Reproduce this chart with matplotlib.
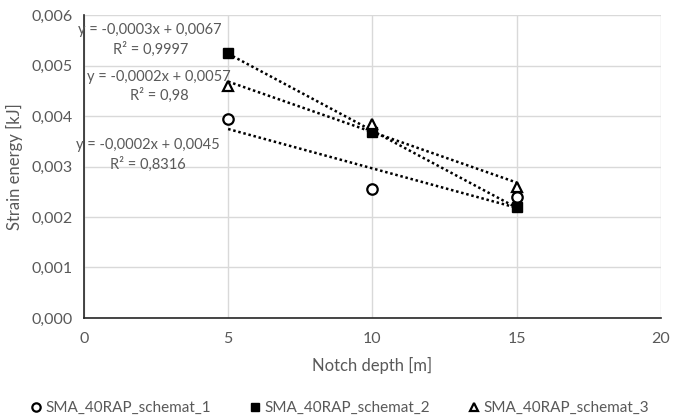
import numpy as np
import matplotlib
matplotlib.use("Agg")
import matplotlib.pyplot as plt
from matplotlib.ticker import FuncFormatter

plt.rcParams['font.family'] = ['Lato', 'DejaVu Sans']

notch_depth = [5, 10, 15]
series_names = ["SMA_40RAP_schemat_1", "SMA_40RAP_schemat_2", "SMA_40RAP_schemat_3"]
energy_1 = [0.00395, 0.00255, 0.00239]
energy_2 = [0.00525, 0.00368, 0.00220]
energy_3 = [0.00460, 0.00385, 0.00260]
eq_labels = ["y = -0,0002x + 0,0045\nR² = 0,8316",
             "y = -0,0003x + 0,0067\nR² = 0,9997",
             "y = -0,0002x + 0,0057\nR² = 0,98"]
x_ticks = [0, 5, 10, 15, 20]
y_ticks = [0.000, 0.001, 0.002, 0.003, 0.004, 0.005, 0.006]

fig = plt.figure(figsize=(6.77, 4.20), dpi=100)
ax = fig.add_axes([0.124, 0.243, 0.852, 0.721])

txt = "#595959"
markers = [dict(marker='o', mfc='white', mec='black', mew=1.6, ms=7.5),
           dict(marker='s', mfc='black', mec='black', mew=1.0, ms=7.5),
           dict(marker='^', mfc='white', mec='black', mew=1.6, ms=7.5)]
eq_pos = [(2.2, 0.00323), (2.3, 0.00551), (2.6, 0.00459)]

x = np.array(notch_depth, dtype=float)
for ys, name, mk, lab, pos in zip([energy_1, energy_2, energy_3], series_names,
                                  markers, eq_labels, eq_pos):
    ax.plot(x, ys, linestyle='none', label=name, zorder=4, **mk)
    c = np.polyfit(x, ys, 1)
    xl = np.array([x.min(), x.max()])
    ax.plot(xl, np.polyval(c, xl), linestyle=(0, (1, 1.1)), color='black',
            lw=1.8, zorder=3)
    ax.text(pos[0], pos[1], lab, ha='center', va='center', color=txt,
            fontsize=10.5, linespacing=1.35, zorder=5)

ax.set_xlim(0, 20)
ax.set_ylim(0, 0.006)
ax.set_xticks(x_ticks)
ax.set_yticks(y_ticks)
ax.yaxis.set_major_formatter(FuncFormatter(lambda v, p: f"{v:.3f}".replace('.', ',')))
ax.grid(True, color='#d9d9d9', lw=1.0, zorder=0)
ax.set_axisbelow(True)
for s in ['top', 'right']:
    ax.spines[s].set_visible(False)
for s in ['left', 'bottom']:
    ax.spines[s].set_color('#262626')
    ax.spines[s].set_linewidth(1.2)
ax.tick_params(length=0, labelsize=11.5, colors=txt, pad=8)
ax.tick_params(axis='x', pad=10)
ax.set_xlabel("Notch depth [m]", fontsize=12, color=txt, labelpad=8)
ax.set_ylabel("Strain energy [kJ]", fontsize=12, color=txt, labelpad=6)

leg = fig.legend(loc='center', bbox_to_anchor=(0.5, 0.028), ncol=3, frameon=False,
                 fontsize=11, handletextpad=0.1, columnspacing=2.4, handlelength=1.0,
                 markerscale=0.8, labelcolor=txt)

fig.savefig("out.png", dpi=100)
